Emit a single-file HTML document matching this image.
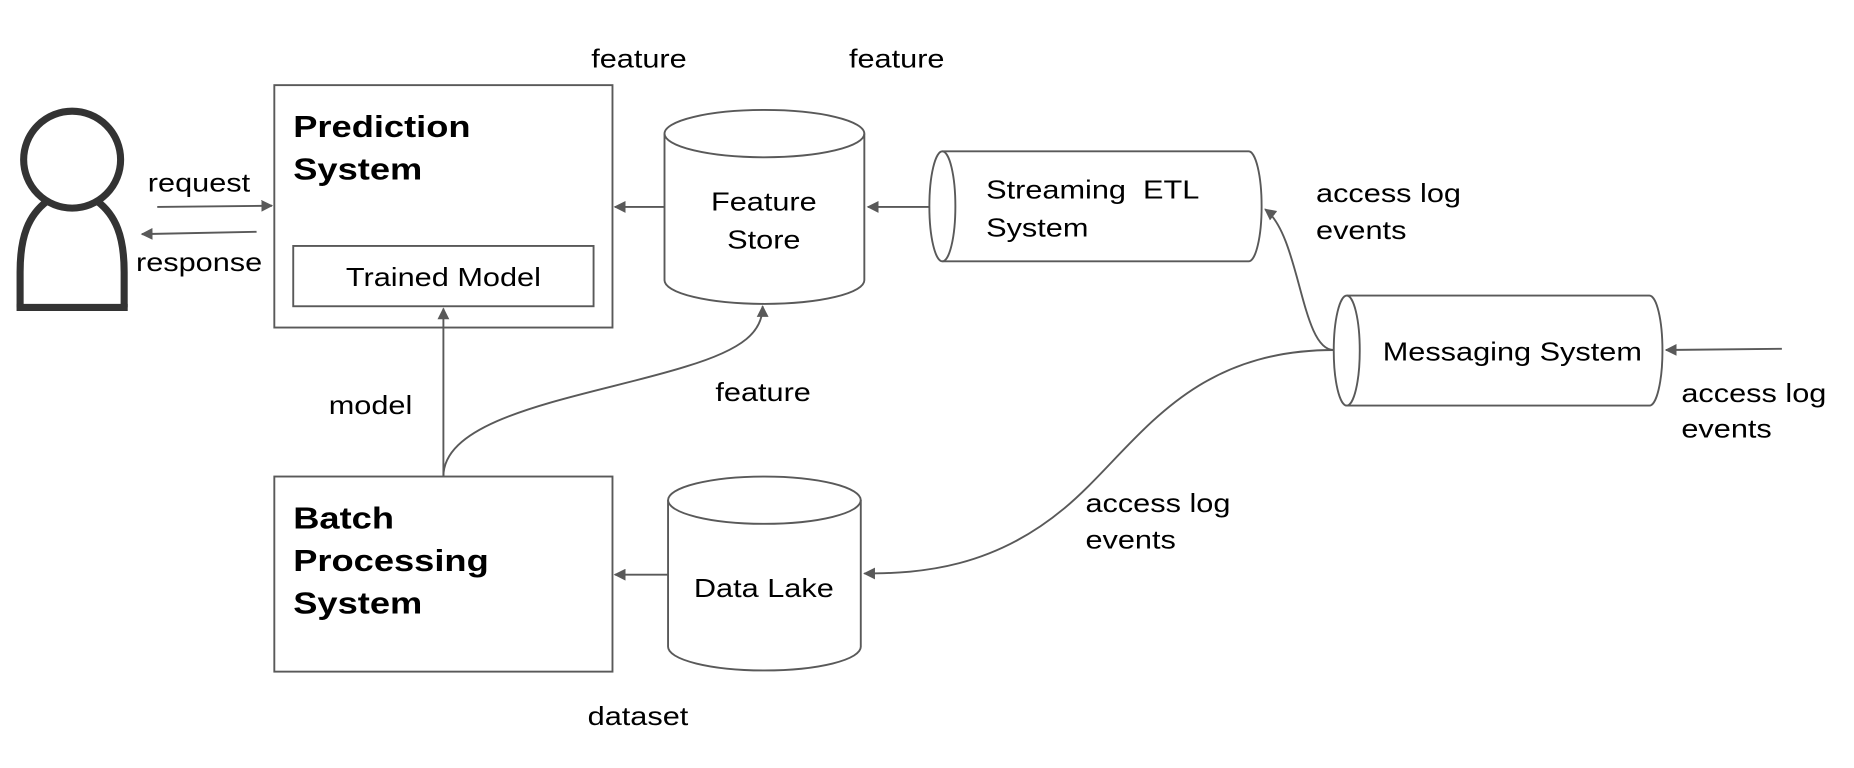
<!DOCTYPE html>
<html><head><meta charset="utf-8"><style>
html,body{margin:0;padding:0;background:#fff;}
svg{display:block;}
text{font-family:"Liberation Sans",sans-serif;fill:#000;}
</style></head><body>
<svg width="1854" height="768" viewBox="0 0 1568 649.5" preserveAspectRatio="none" xmlns="http://www.w3.org/2000/svg">
<defs>
<marker id="a" markerWidth="10" markerHeight="10" refX="9" refY="5" orient="auto" markerUnits="userSpaceOnUse">
<path d="M0,0 L10,5 L0,10 Z" fill="#595959"/>
</marker>
</defs>
<g fill="none" stroke="#595959" stroke-width="1.6">
<g stroke="#333" stroke-width="6">
<circle cx="61" cy="135" r="41"/>
<path d="M17,260 L17,230 C17,200 24,182 40,170"/>
<path d="M82,170 C98,182 105,200 105,230 L105,260"/>
<path d="M14,260 L108,260"/>
</g>
<line x1="133" y1="175" x2="230" y2="174" marker-end="url(#a)"/>
<line x1="217" y1="196" x2="120" y2="198" marker-end="url(#a)"/>
<rect x="232" y="72" width="286" height="205"/>
<rect x="248" y="208" width="254" height="51"/>
<path d="M562,113 A84.5,20 0 0 1 731,113 L731,237 A84.5,20 0 0 1 562,237 Z"/>
<path d="M562,113 A84.5,20 0 0 0 731,113"/>
<line x1="562" y1="175" x2="520" y2="175" marker-end="url(#a)"/>
<path d="M797,128 L1056,128 A11,46.5 0 0 1 1056,221 L797,221 A11,46.5 0 0 1 797,128 Z"/>
<path d="M797,128 A11,46.5 0 0 1 797,221"/>
<line x1="786" y1="175" x2="734" y2="175" marker-end="url(#a)"/>
<path d="M1139,250 L1395,250 A11,46.5 0 0 1 1395,343 L1139,343 A11,46.5 0 0 1 1139,250 Z"/>
<path d="M1139,250 A11,46.5 0 0 1 1139,343"/>
<line x1="1507" y1="295" x2="1409" y2="296" marker-end="url(#a)"/>
<path d="M1128,296 C1100,296 1100,200 1070,177" marker-end="url(#a)"/>
<path d="M1128,296 C1000,296 960,380 900,430 C840,480 780,485 731,485" marker-end="url(#a)"/>
<rect x="232" y="403" width="286" height="165"/>
<path d="M565,423 A81.5,20 0 0 1 728,423 L728,547 A81.5,20 0 0 1 565,547 Z"/>
<path d="M565,423 A81.5,20 0 0 0 728,423"/>
<line x1="565" y1="486" x2="520" y2="486" marker-end="url(#a)"/>
<line x1="375" y1="403" x2="375" y2="261" marker-end="url(#a)"/>
<path d="M375,403 C375,350 500,335 580,310 C630,295 645,280 645,259" marker-end="url(#a)"/>
</g>
<g font-size="22">
<text transform="translate(125,162) scale(1.18,1)">request</text>
<text transform="translate(115,229) scale(1.18,1)">response</text>
<text transform="translate(248,116) scale(1.18,1)" font-weight="bold" font-size="26">Prediction</text>
<text transform="translate(248,152) scale(1.18,1)" font-weight="bold" font-size="26">System</text>
<text transform="translate(375,242) scale(1.18,1)" text-anchor="middle">Trained Model</text>
<text transform="translate(646,178) scale(1.18,1)" text-anchor="middle">Feature</text>
<text transform="translate(646,210) scale(1.18,1)" text-anchor="middle">Store</text>
<text transform="translate(500,57) scale(1.18,1)">feature</text>
<text transform="translate(718,57) scale(1.18,1)">feature</text>
<text transform="translate(834,168) scale(1.18,1)">Streaming&#160;&#160;ETL</text>
<text transform="translate(834,200) scale(1.18,1)">System</text>
<text transform="translate(1113,171) scale(1.18,1)">access log</text>
<text transform="translate(1113,202) scale(1.18,1)">events</text>
<text transform="translate(1279,305) scale(1.18,1)" text-anchor="middle">Messaging System</text>
<text transform="translate(1422,340) scale(1.18,1)">access log</text>
<text transform="translate(1422,370) scale(1.18,1)">events</text>
<text transform="translate(918,433) scale(1.18,1)">access log</text>
<text transform="translate(918,464) scale(1.18,1)">events</text>
<text transform="translate(605,339) scale(1.18,1)">feature</text>
<text transform="translate(278,350) scale(1.18,1)">model</text>
<text transform="translate(248,447) scale(1.18,1)" font-weight="bold" font-size="26">Batch</text>
<text transform="translate(248,483) scale(1.18,1)" font-weight="bold" font-size="26">Processing</text>
<text transform="translate(248,519) scale(1.18,1)" font-weight="bold" font-size="26">System</text>
<text transform="translate(646,505) scale(1.18,1)" text-anchor="middle">Data Lake</text>
<text transform="translate(497,613) scale(1.18,1)">dataset</text>
</g>
</svg>
</body></html>
